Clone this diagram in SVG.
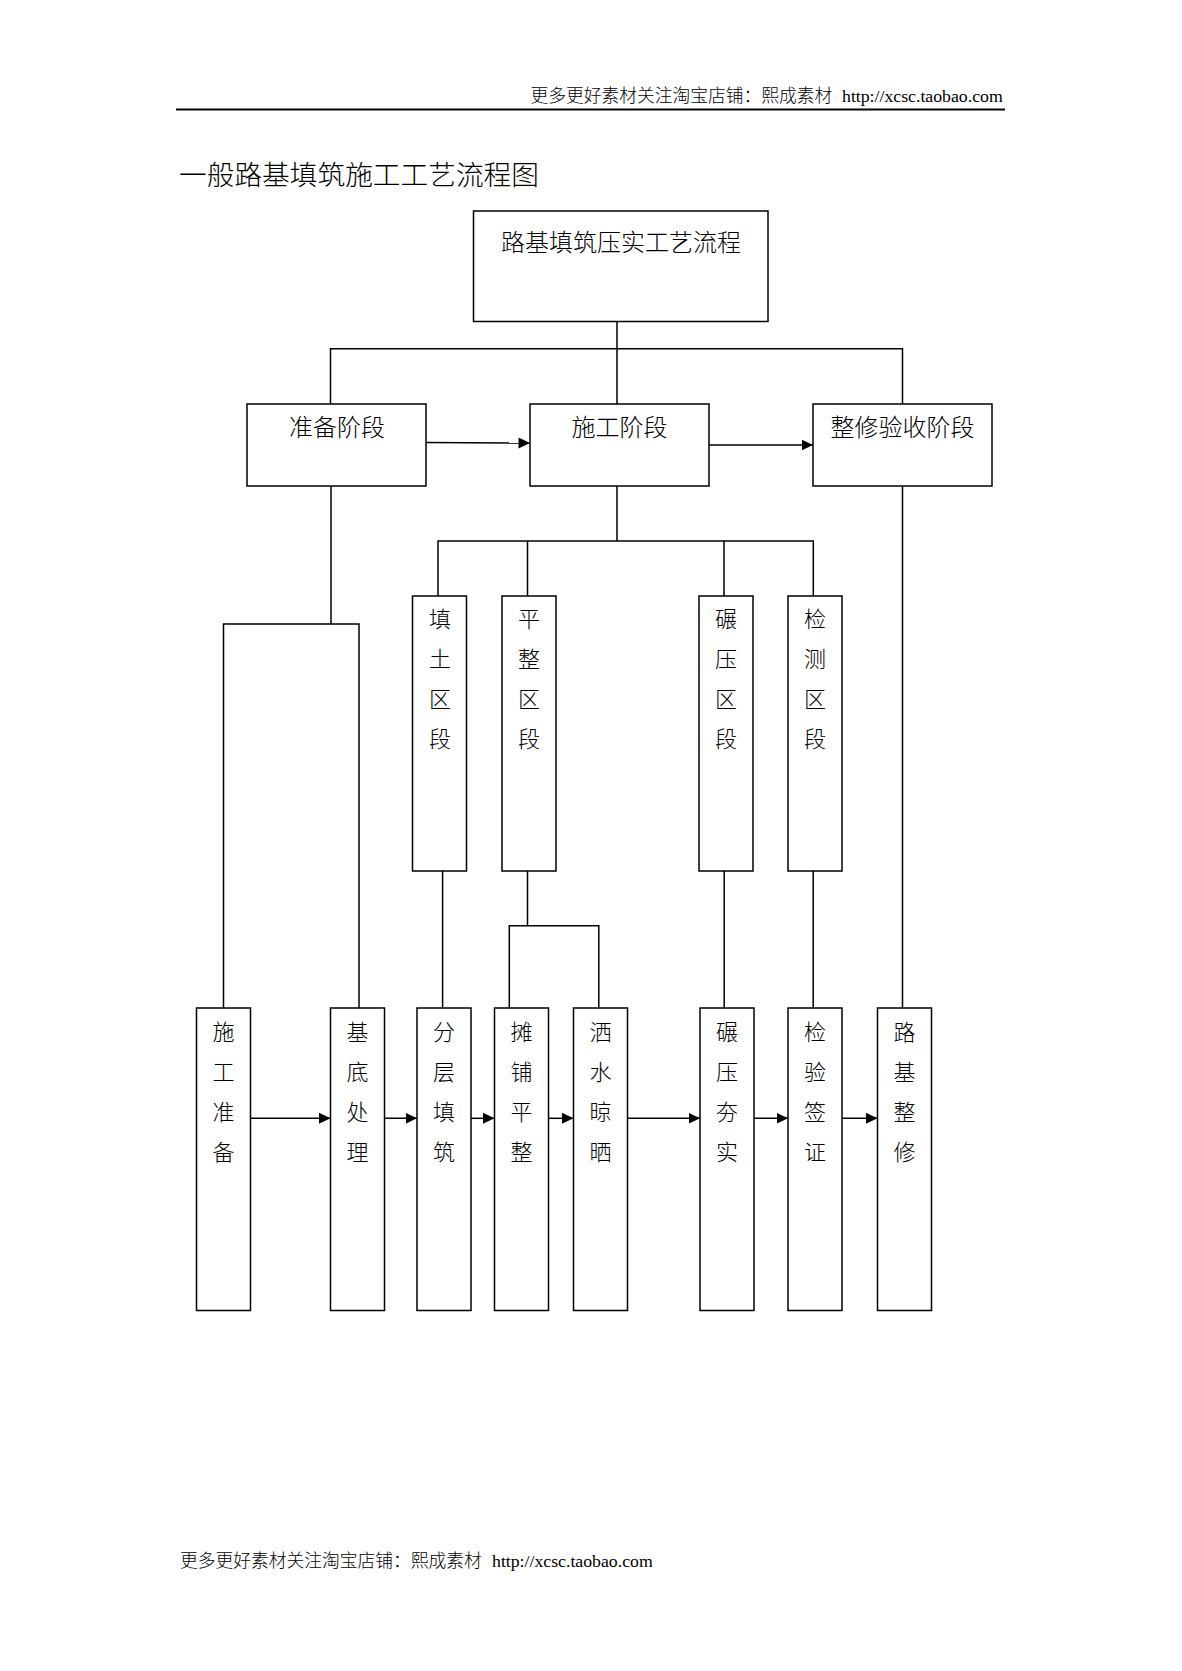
<svg xmlns="http://www.w3.org/2000/svg" width="1182" height="1671" viewBox="0 0 1182 1671">
<style>
.bx{fill:#fff;stroke:#000;stroke-width:1.5}
.ln{fill:none;stroke:#000;stroke-width:1.5}
.t{font-family:"Liberation Serif","Noto Sans CJK SC",serif;font-weight:300;fill:#000}
.c24{font-size:24px;text-anchor:middle}
.v{font-size:22px;text-anchor:middle}
.hd{font-size:17.75px}
</style>
<defs>
<marker id="ah" markerUnits="userSpaceOnUse" markerWidth="12" markerHeight="12" refX="11.5" refY="6" orient="auto">
<path d="M0,0.5 L11.5,6 L0,11.5 z" fill="#000"/>
</marker>
</defs>
<rect width="1182" height="1671" fill="#fff"/>
<g id="header">
<line x1="176" y1="109.5" x2="1005" y2="109.5" stroke="#000" stroke-width="1.8"/>
<text class="t hd" y="101.5"><tspan x="530.5">更多更好素材关注淘宝店铺：熙成素材</tspan><tspan x="842">http://xcsc.taobao.com</tspan></text>
</g>
<text id="title" class="t" x="179" y="184.5" font-size="27.7">一般路基填筑施工工艺流程图</text>
<g id="connectors">
<path class="ln" d="M617,321.5 V404 M330.5,404 V348.7 H902.5 V404"/>
<line class="ln" x1="426" y1="442.5" x2="530" y2="443" marker-end="url(#ah)"/>
<line class="ln" x1="709" y1="445" x2="813" y2="445" marker-end="url(#ah)"/>
<path class="ln" d="M331,486 V624 M223.5,1008 V624 H359 V1008"/>
<path class="ln" d="M617,486 V541 M438,596 V541 H813.3 V596 M527.5,541 V596 M724,541 V596"/>
<path class="ln" d="M442.6,871 V1008 M527.5,871 V925.7 M509.3,1008 V925.7 H598.8 V1008 M724.2,871 V1008 M813.2,871 V1008 M902.5,486 V1008"/>
<line class="ln" x1="250.5" y1="1118.3" x2="330.5" y2="1118.3" marker-end="url(#ah)"/>
<line class="ln" x1="384.5" y1="1118.3" x2="417" y2="1118.3" marker-end="url(#ah)"/>
<line class="ln" x1="471" y1="1118.3" x2="494.5" y2="1118.3" marker-end="url(#ah)"/>
<line class="ln" x1="548.5" y1="1118.3" x2="573.5" y2="1118.3" marker-end="url(#ah)"/>
<line class="ln" x1="627.5" y1="1118.3" x2="700" y2="1118.3" marker-end="url(#ah)"/>
<line class="ln" x1="754" y1="1118.3" x2="788" y2="1118.3" marker-end="url(#ah)"/>
<line class="ln" x1="842" y1="1118.3" x2="877.5" y2="1118.3" marker-end="url(#ah)"/>
</g>
<g id="root">
<rect class="bx" x="473.5" y="211" width="294.5" height="110.5"/>
<text class="t c24" x="621" y="251">路基填筑压实工艺流程</text>
</g>
<g id="prep">
<rect class="bx" x="247" y="404" width="179" height="82"/>
<text class="t c24" x="337" y="436">准备阶段</text>
</g>
<g id="build">
<rect class="bx" x="530" y="404" width="179" height="82"/>
<text class="t c24" x="619.5" y="436">施工阶段</text>
</g>
<g id="finish">
<rect class="bx" x="813" y="404" width="179" height="82"/>
<text class="t c24" x="902.5" y="436">整修验收阶段</text>
</g>
<g id="zone-fill">
<rect class="bx" x="412.5" y="596" width="54" height="275"/>
<text class="t v"><tspan x="440" y="627.4">填</tspan><tspan x="440" y="667.4">土</tspan><tspan x="440" y="707.4">区</tspan><tspan x="440" y="747.4">段</tspan></text>
</g>
<g id="zone-level">
<rect class="bx" x="502" y="596" width="54" height="275"/>
<text class="t v"><tspan x="529" y="627.4">平</tspan><tspan x="529" y="667.4">整</tspan><tspan x="529" y="707.4">区</tspan><tspan x="529" y="747.4">段</tspan></text>
</g>
<g id="zone-roll">
<rect class="bx" x="699" y="596" width="54" height="275"/>
<text class="t v"><tspan x="726" y="627.4">碾</tspan><tspan x="726" y="667.4">压</tspan><tspan x="726" y="707.4">区</tspan><tspan x="726" y="747.4">段</tspan></text>
</g>
<g id="zone-test">
<rect class="bx" x="788" y="596" width="54" height="275"/>
<text class="t v"><tspan x="815" y="627.4">检</tspan><tspan x="815" y="667.4">测</tspan><tspan x="815" y="707.4">区</tspan><tspan x="815" y="747.4">段</tspan></text>
</g>
<g id="step1">
<rect class="bx" x="196.5" y="1008" width="54" height="302.5"/>
<text class="t v"><tspan x="223.5" y="1040.4">施</tspan><tspan x="223.5" y="1080.4">工</tspan><tspan x="223.5" y="1120.4">准</tspan><tspan x="223.5" y="1160.4">备</tspan></text>
</g>
<g id="step2">
<rect class="bx" x="330.5" y="1008" width="54" height="302.5"/>
<text class="t v"><tspan x="357.5" y="1040.4">基</tspan><tspan x="357.5" y="1080.4">底</tspan><tspan x="357.5" y="1120.4">处</tspan><tspan x="357.5" y="1160.4">理</tspan></text>
</g>
<g id="step3">
<rect class="bx" x="417" y="1008" width="54" height="302.5"/>
<text class="t v"><tspan x="444" y="1040.4">分</tspan><tspan x="444" y="1080.4">层</tspan><tspan x="444" y="1120.4">填</tspan><tspan x="444" y="1160.4">筑</tspan></text>
</g>
<g id="step4">
<rect class="bx" x="494.5" y="1008" width="54" height="302.5"/>
<text class="t v"><tspan x="521.5" y="1040.4">摊</tspan><tspan x="521.5" y="1080.4">铺</tspan><tspan x="521.5" y="1120.4">平</tspan><tspan x="521.5" y="1160.4">整</tspan></text>
</g>
<g id="step5">
<rect class="bx" x="573.5" y="1008" width="54" height="302.5"/>
<text class="t v"><tspan x="600.5" y="1040.4">洒</tspan><tspan x="600.5" y="1080.4">水</tspan><tspan x="600.5" y="1120.4">晾</tspan><tspan x="600.5" y="1160.4">晒</tspan></text>
</g>
<g id="step6">
<rect class="bx" x="700" y="1008" width="54" height="302.5"/>
<text class="t v"><tspan x="727" y="1040.4">碾</tspan><tspan x="727" y="1080.4">压</tspan><tspan x="727" y="1120.4">夯</tspan><tspan x="727" y="1160.4">实</tspan></text>
</g>
<g id="step7">
<rect class="bx" x="788" y="1008" width="54" height="302.5"/>
<text class="t v"><tspan x="815" y="1040.4">检</tspan><tspan x="815" y="1080.4">验</tspan><tspan x="815" y="1120.4">签</tspan><tspan x="815" y="1160.4">证</tspan></text>
</g>
<g id="step8">
<rect class="bx" x="877.5" y="1008" width="54" height="302.5"/>
<text class="t v"><tspan x="904.5" y="1040.4">路</tspan><tspan x="904.5" y="1080.4">基</tspan><tspan x="904.5" y="1120.4">整</tspan><tspan x="904.5" y="1160.4">修</tspan></text>
</g>
<g id="footer">
<text class="t hd" y="1567"><tspan x="180">更多更好素材关注淘宝店铺：熙成素材</tspan><tspan x="492">http://xcsc.taobao.com</tspan></text>
</g>
</svg>
